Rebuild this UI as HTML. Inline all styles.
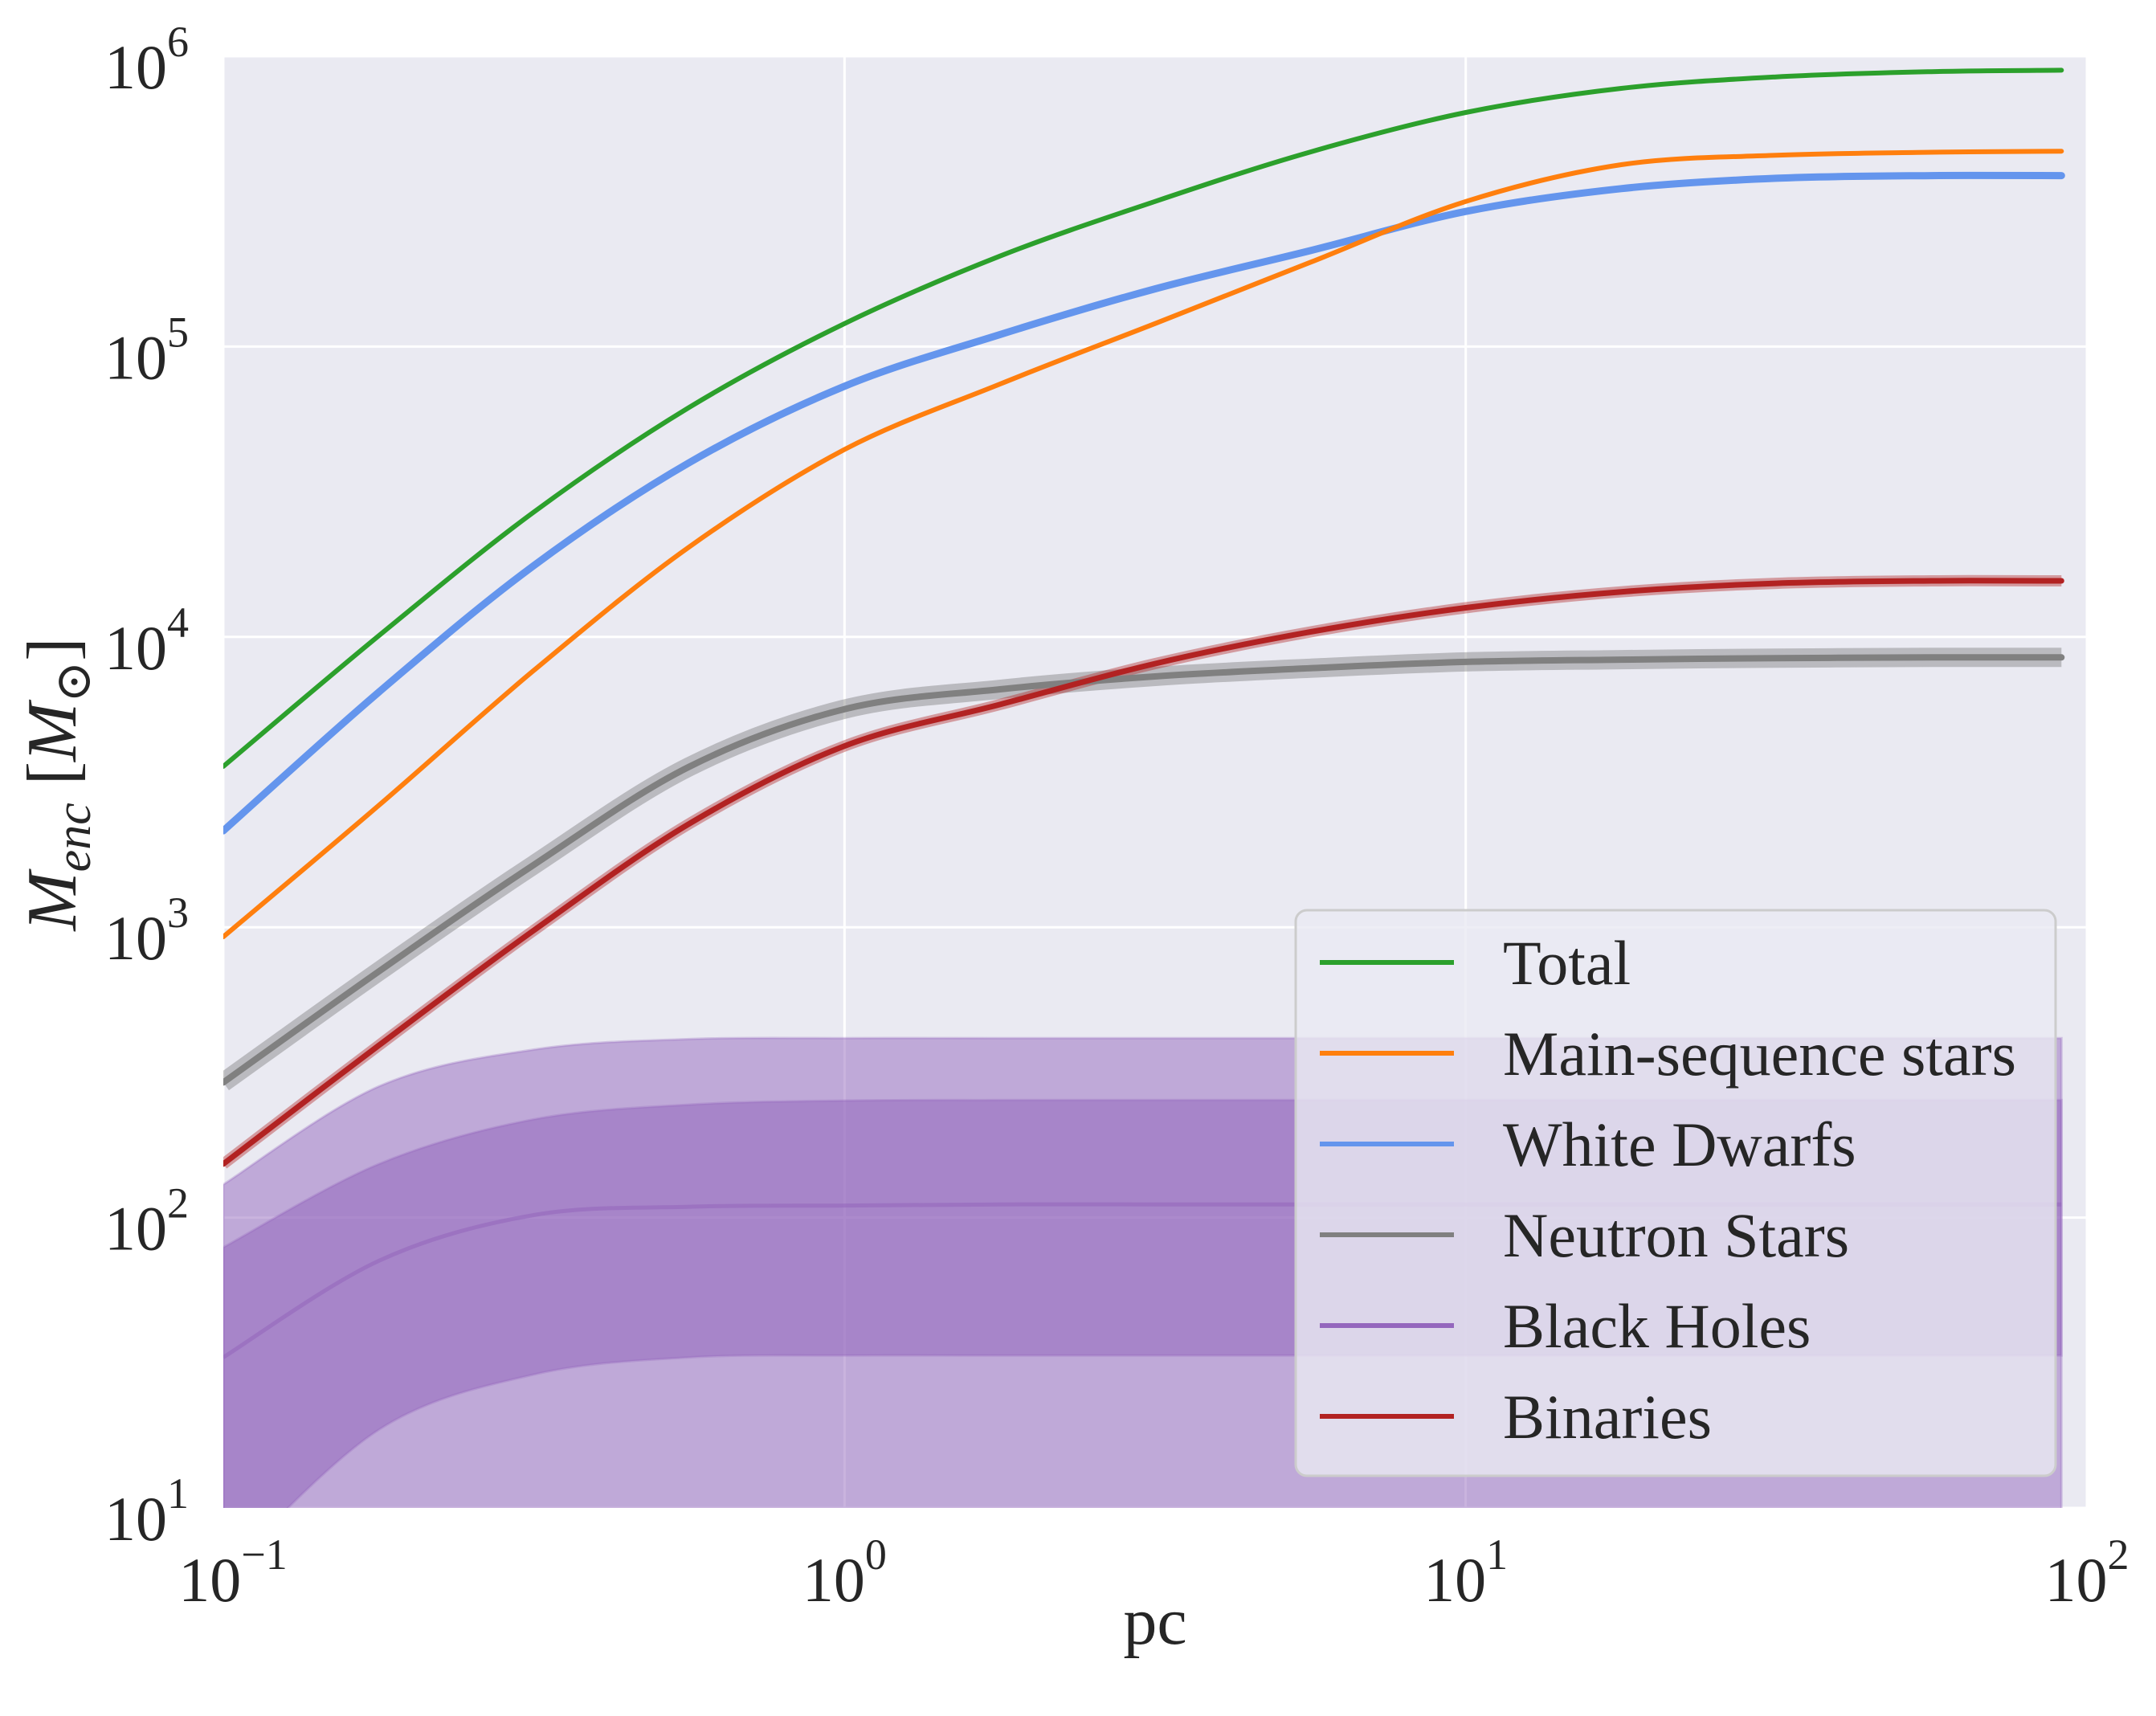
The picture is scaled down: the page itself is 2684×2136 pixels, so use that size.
<!DOCTYPE html>
<html><head><meta charset="utf-8">
<style>
html,body{margin:0;padding:0;background:#fff;}
svg{display:block;font-family:"Liberation Serif","DejaVu Serif",serif;}
</style></head>
<body>
<svg id="chart" width="2684" height="2136" viewBox="0 0 2684 2136" xmlns="http://www.w3.org/2000/svg">
<defs><clipPath id="clip"><rect x="278" y="70" width="2320" height="1807"/></clipPath></defs>
<rect x="278" y="70" width="2320" height="1807" fill="#eaeaf2"/>
<g id="grid"></g>
<g id="bands" clip-path="url(#clip)"></g>
<g id="lines" clip-path="url(#clip)"></g>
<g id="ticks"></g>
<text x="1438" y="2046" font-size="84" text-anchor="middle" fill="#262626">pc</text>
<text transform="translate(94,976) rotate(-90)" font-size="88" text-anchor="middle" fill="#262626"><tspan font-style="italic">M</tspan><tspan font-style="italic" font-size="62" dy="18">enc</tspan><tspan dy="-18"> [</tspan><tspan font-style="italic">M</tspan><tspan font-size="62" dy="18">⊙</tspan><tspan dy="-18">]</tspan></text>
<g id="legend"></g>
</svg>
<script>
const xs = [0.1, 0.178, 0.316, 0.562, 1, 1.78, 3.16, 5.62, 10, 17.8, 31.6, 56.2, 91];
const total = [3580, 10100, 26900, 61700, 120000, 205000, 316000, 468000, 640000, 775000, 849000, 885000, 895000];
const mainSeq = [927, 2630, 7660, 20400, 44200, 74300, 120000, 195000, 316000, 423000, 456000, 467000, 471000];
const whiteDwarfs = [2150, 6460, 17600, 39800, 73000, 110000, 158000, 214000, 292000, 350000, 380000, 388000, 388000];
const neutronStars = [292, 705, 1640, 3570, 5640, 6600, 7310, 7800, 8200, 8350, 8450, 8500, 8500];
const binaries = [153, 392, 975, 2270, 4210, 5850, 8090, 10400, 12600, 14300, 15300, 15600, 15600];
const bhMedian = [33, 71, 102, 109, 110, 111, 111, 111, 111, 111, 111, 111, 111];
const bhInnerHigh = [79, 153, 218, 245, 253, 254, 254, 254, 254, 254, 254, 254, 254];
const bhInnerLow = [6, 18.6, 28.8, 33, 33.5, 33.5, 33.5, 33.5, 33.5, 33.5, 33.5, 33.5, 33.5];
const bhOuterHigh = [130, 283, 379, 412, 415, 415, 415, 415, 415, 415, 415, 415, 415];
const bhOuterLow = [1, 2, 3, 3, 3, 3, 3, 3, 3, 3, 3, 3, 3];
const xTicks = [-1, 0, 1, 2];
const yTicks = [1, 2, 3, 4, 5, 6];
const legendLabels = ["Total", "Main-sequence stars", "White Dwarfs", "Neutron Stars", "Black Holes", "Binaries"];
const legendColors = ["#2ca02c", "#ff7f0e", "#6495ed", "#808080", "#9467bd", "#b22222"];

const NS = "http://www.w3.org/2000/svg";
const X0 = 278, X1 = 2598, Y0 = 70, Y1 = 1877;
function sx(v){ return X0 + (Math.log10(v) + 1) / 3 * (X1 - X0); }
function sy(v){ return Y1 - (Math.log10(v) - 1) / 5 * (Y1 - Y0); }
function mk(tag, attrs, parent){ const e = document.createElementNS(NS, tag); for (const k in attrs) e.setAttribute(k, attrs[k]); parent.appendChild(e); return e; }
function pts(arr){ return xs.map((x, i) => [sx(x), sy(arr[i])]); }
function segs(p){
  let d = "";
  for (let i = 0; i < p.length - 1; i++){
    const a = p[Math.max(0, i-1)], b = p[i], c = p[i+1], e = p[Math.min(p.length-1, i+2)];
    const c1 = [b[0] + (c[0]-a[0])/6, b[1] + (c[1]-a[1])/6];
    const c2 = [c[0] - (e[0]-b[0])/6, c[1] - (e[1]-b[1])/6];
    d += "C" + c1[0].toFixed(1) + "," + c1[1].toFixed(1) + " " + c2[0].toFixed(1) + "," + c2[1].toFixed(1) + " " + c[0].toFixed(1) + "," + c[1].toFixed(1);
  }
  return d;
}
function smooth(p){ return "M" + p[0][0].toFixed(1) + "," + p[0][1].toFixed(1) + segs(p); }
function bandPath(hi, lo){
  const h = pts(hi), l = pts(lo).reverse();
  return smooth(h) + "L" + l[0][0].toFixed(1) + "," + l[0][1].toFixed(1) + segs(l) + "Z";
}

const grid = document.getElementById("grid");
xTicks.forEach(t => {
  const x = sx(Math.pow(10, t));
  const g = mk("line", {x1: x, x2: x, y1: Y0, y2: Y1, stroke: "#fff", "stroke-width": 3}, grid);
  
  
});
yTicks.forEach(t => {
  const y = sy(Math.pow(10, t));
  const g = mk("line", {x1: X0, x2: X1, y1: y, y2: y, stroke: "#fff", "stroke-width": 3}, grid);
  
  
});

const bands = document.getElementById("bands");
const ob = mk("path", {d: bandPath(bhOuterHigh, bhOuterLow), fill: "#9467bd", "fill-opacity": 0.5, stroke: "#9467bd", "stroke-opacity": 0.3, "stroke-width": 3}, bands);


const ib = mk("path", {d: bandPath(bhInnerHigh, bhInnerLow), fill: "#9467bd", "fill-opacity": 0.55, stroke: "#9467bd", "stroke-opacity": 0.3, "stroke-width": 3}, bands);



const lines = document.getElementById("lines");
const ml = mk("path", {d: smooth(pts(bhMedian)), fill: "none", stroke: "#9467bd", "stroke-width": 5, "stroke-opacity": 0.6}, lines);


const nb = mk("path", {d: smooth(pts(neutronStars)), fill: "none", stroke: "#808080", "stroke-width": 24, "stroke-opacity": 0.45}, lines);


const rb = mk("path", {d: smooth(pts(binaries)), fill: "none", stroke: "#b22222", "stroke-width": 14, "stroke-opacity": 0.4}, lines);


const series = [[neutronStars, "#808080", "neutron-stars-line", 8], [binaries, "#b22222", "binaries-line", 7], [whiteDwarfs, "#6495ed", "white-dwarfs-line", 9], [mainSeq, "#ff7f0e", "main-sequence-line", 6], [total, "#2ca02c", "total-line", 6]];
series.forEach(s => {
  const p = mk("path", {d: smooth(pts(s[0])), fill: "none", stroke: s[1], "stroke-width": s[3], "stroke-linecap": "round"}, lines);
  
  
});

const ticks = document.getElementById("ticks");
xTicks.forEach(t => {
  const x = sx(Math.pow(10, t));
  const tx = mk("text", {x: x + (t < 0 ? 12 : 0), y: 1993, "font-size": 78, "text-anchor": "middle", fill: "#262626"}, ticks);
  
  
  tx.innerHTML = '10<tspan font-size="54" dy="-40">' + (t < 0 ? '−' + (-t) : t) + '</tspan>';
});
yTicks.forEach(t => {
  const y = sy(Math.pow(10, t));
  const tx = mk("text", {x: 235, y: y + 40, "font-size": 78, "text-anchor": "end", fill: "#262626"}, ticks);
  
  
  tx.innerHTML = '10<tspan font-size="54" dy="-40">' + t + '</tspan>';
});

const legend = document.getElementById("legend");
const lb = mk("rect", {x: 1613, y: 1133, width: 946, height: 704, rx: 14, fill: "#eaeaf2", "fill-opacity": 0.8, stroke: "#cccccc", "stroke-width": 3}, legend);


legendLabels.forEach((lab, i) => {
  const y = 1198 + i * 113;
  const ln = mk("line", {x1: 1643, x2: 1810, y1: y, y2: y, stroke: legendColors[i], "stroke-width": 6}, legend);
  
  
  const tx = mk("text", {x: 1871, y: y + 27, "font-size": 78, fill: "#262626"}, legend);
  
  
  tx.textContent = lab;
});
</script>
</body></html>
